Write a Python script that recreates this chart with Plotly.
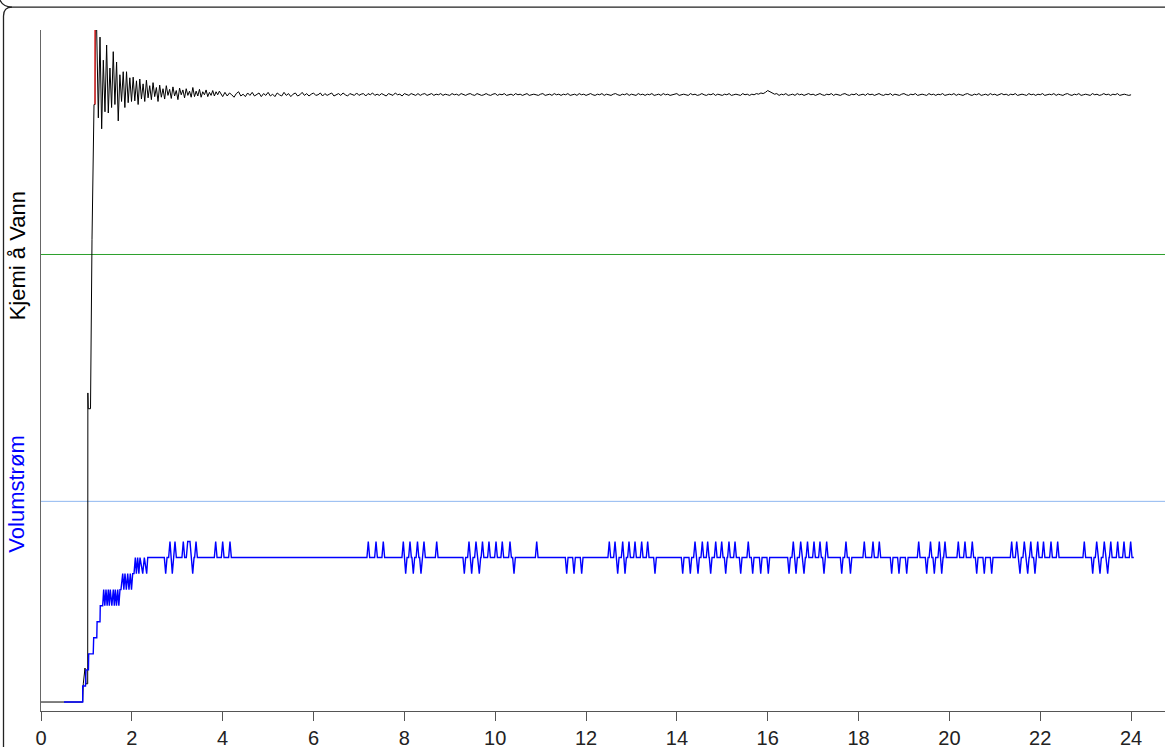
import plotly.graph_objects as go

# ---------------- data ----------------
x_tick_vals = list(range(0, 25, 2))

# "Kjemi å Vann" (black) – start-up part
kjemi_lead_t = [0.0, 0.918, 0.931, 0.969, 0.991, 1.028, 1.032, 1.040, 1.090, 1.094, 1.123, 1.167, 1.189, 1.196]
kjemi_lead_v = [0.0, 0.0, 3.0, 5.6, 3.0, 3.0, 50.9, 48.3, 48.3, 52.0, 76.2, 98.4, 98.4, 110.7]

# oscillation after start-up (regular sampling)
kjemi_osc_start = 1.226
kjemi_osc_dt = 0.0365
kjemi_osc_v = [
    110.7, 96.2, 109.5, 94.4, 105.7, 97.2, 108.2, 97.0, 104.4, 97.9,
    107.1, 98.4, 105.4, 95.7, 103.3, 98.9, 103.8, 97.9, 103.8, 98.7,
    102.8, 98.9, 102.9, 99.0, 102.3, 98.4, 102.6, 99.3, 101.8, 98.9,
    102.4, 99.5, 101.5, 99.2, 102.0, 99.7, 101.2, 98.9, 101.6, 99.6,
    101.0, 99.3, 101.5, 99.9, 100.9, 99.4, 101.3, 99.8, 100.7, 99.2,
    101.1, 100.0, 100.8, 99.5, 101.0, 99.9, 100.6, 99.6, 101.2, 99.7,
    100.6, 99.8, 100.9, 99.6, 100.5, 100.0, 100.8, 99.7, 100.4, 99.9,
    100.7, 99.8, 100.5, 100.0, 100.6,
]

# steady tail
kjemi_tail_start = 4.0
kjemi_tail_dt = 0.05
kjemi_tail_v = [
    99.7, 100.4, 99.8, 100.3, 100.0, 99.6, 100.2, 100.5, 99.8, 100.1, 99.7, 100.3, 99.9, 100.4, 99.8, 100.0, 100.3, 99.7, 100.2, 99.9,
    100.4, 99.8, 100.1, 99.7, 100.3, 100.0, 99.8, 100.4, 99.9, 100.2, 99.7, 100.1, 100.3, 99.8, 100.0, 100.4, 99.9, 100.2, 99.8, 100.1,
    100.3, 99.9, 100.0, 100.3, 99.8, 100.2, 99.9, 100.1, 100.3, 99.8, 100.0, 100.2, 99.9, 100.3, 100.0, 99.8, 100.2, 100.1, 99.9, 100.3,
    99.9, 100.1, 100.2, 99.8, 100.2, 100.0, 100.3, 99.9, 100.1, 99.9, 100.2, 100.0, 99.8, 100.2, 100.1, 99.9, 100.3, 100.0, 100.1, 99.8,
    100.2, 100.0, 99.9, 100.2, 100.1, 99.9, 100.2, 99.9, 100.1, 100.2, 99.9, 100.0, 100.2, 99.9, 100.1, 100.0, 100.2, 99.9, 100.1, 100.0,
    99.9, 100.2, 100.0, 100.1, 99.9, 100.2, 100.0, 99.9, 100.1, 100.2, 100.0, 99.9, 100.2, 100.1, 99.9, 100.0, 100.2, 100.0, 99.9, 100.1,
    100.2, 99.9, 100.1, 100.0, 100.2, 99.9, 100.0, 100.1, 99.9, 100.2, 100.0, 100.1, 99.9, 100.1, 100.2, 99.9, 100.0, 100.1, 100.0, 99.9,
    100.1, 100.2, 99.9, 100.0, 100.1, 99.9, 100.2, 100.0, 100.1, 99.9, 100.1, 100.0, 100.2, 99.9, 100.0, 100.1, 99.9, 100.2, 100.0, 100.1,
    99.9, 100.0, 100.2, 100.0, 99.9, 100.1, 100.0, 100.2, 99.9, 100.1, 100.0, 99.9, 100.1, 100.2, 100.0, 99.9, 100.1, 100.0, 100.2, 99.9,
    100.1, 100.0, 99.9, 100.2, 100.0, 100.1, 99.9, 100.1, 100.0, 100.2, 99.9, 100.0, 100.1, 99.9, 100.2, 100.0, 100.1, 99.9, 100.0, 100.1,
    100.2, 99.9, 100.0, 100.1, 100.0, 99.9, 100.2, 100.0, 100.1, 99.9, 100.0, 100.2, 100.0, 99.9, 100.1, 100.0, 100.2, 99.9, 100.1, 100.0,
    99.9, 100.1, 100.0, 100.2, 99.9, 100.0, 100.1, 100.0, 99.9, 100.2, 100.0, 100.1, 99.9, 100.1, 100.0, 100.2, 100.1, 100.3, 100.2, 100.4,
    100.7, 100.5, 100.3, 100.1, 100.2, 99.9, 100.1, 100.0, 100.2, 99.9, 100.0, 100.1, 99.9, 100.2, 100.0, 100.1, 99.9, 100.0, 100.2, 100.0,
    100.1, 99.9, 100.0, 100.2, 100.0, 99.9, 100.1, 100.0, 100.2, 99.9, 100.1, 100.0, 99.9, 100.1, 100.2, 100.0, 99.9, 100.1, 100.0, 100.2,
    99.9, 100.0, 100.1, 99.9, 100.2, 100.0, 100.1, 99.9, 100.0, 100.2, 100.0, 99.9, 100.1, 100.0, 100.2, 99.9, 100.1, 100.0, 99.9, 100.1,
    100.2, 100.0, 99.9, 100.1, 100.0, 100.2, 99.9, 100.0, 100.1, 100.0, 99.9, 100.2, 100.0, 100.1, 99.9, 100.1, 100.0, 100.2, 99.9, 100.0,
    100.1, 100.0, 100.2, 99.9, 100.1, 100.0, 99.9, 100.1, 100.2, 100.0, 99.9, 100.1, 100.0, 100.2, 99.9, 100.0, 100.1, 99.9, 100.2, 100.0,
    100.1, 99.9, 100.0, 100.2, 100.0, 100.1, 99.9, 100.1, 100.0, 100.2, 99.9, 100.0, 100.1, 100.0, 99.9, 100.2, 100.0, 100.1, 99.9, 100.1,
    100.0, 100.2, 99.9, 100.0, 100.1, 100.0, 100.2, 99.9, 100.1, 100.0, 99.9, 100.1, 100.2, 100.0, 99.9, 100.1, 100.0, 100.2, 99.9, 100.0,
    100.1, 100.0, 99.9, 100.2, 100.0, 100.1, 99.9, 100.0, 100.2, 100.0, 100.1, 99.9, 100.1, 100.0, 100.2, 99.9, 100.0, 100.1, 100.0, 99.9,
    100.0,
]

kjemi_red_t = [1.189, 1.189]
kjemi_red_v = [98.4, 110.7]
kjemi_limit = 73.7

# "Volumstrøm" (blue) – start-up staircase
volum_start_t = [0.506, 0.918, 0.918, 0.980, 0.991, 1.045, 1.050, 1.150, 1.160, 1.228,
                 1.235, 1.299, 1.305, 1.358, 1.380, 1.405, 1.431, 1.456, 1.482, 1.504,
                 1.526, 1.560, 1.592, 1.614, 1.636, 1.662, 1.689, 1.714, 1.739, 1.761,
                 1.799, 1.824, 1.849, 1.879, 1.909, 1.937, 1.966, 1.992, 2.019, 2.048,
                 2.077, 2.100, 2.128, 2.155, 2.180, 2.240, 2.275, 2.327, 2.350]
volum_start_v = [0, 0, 1, 1, 2, 2, 3, 3, 4, 4,
                 5, 5, 6, 6, 7, 6, 7, 6, 7, 6,
                 7, 6, 7, 6, 7, 6, 7, 6, 7, 7,
                 8, 7, 8, 7, 8, 7, 8, 7, 8, 8,
                 9, 8, 9, 8, 9, 8, 9, 8, 9]
volum_base = 9
volum_up_t = [
    2.840, 2.950, 3.133, 3.230, 3.280, 3.413, 3.846, 4.000, 4.161,
    7.206, 7.376, 7.536, 7.977, 8.124, 8.289, 8.432, 8.712,
    9.423, 9.577, 9.720, 9.863, 10.018, 10.156, 10.326, 10.914,
    12.512, 12.638, 12.807, 12.946, 13.078, 13.225, 13.357,
    14.399, 14.560, 14.678, 14.855, 14.987, 15.147, 15.280, 15.572,
    16.563, 16.726, 16.876, 17.019, 17.151, 17.298, 17.723,
    18.126, 18.318, 18.457, 19.324, 19.584, 19.778, 19.903,
    20.196, 20.343, 20.504, 21.371, 21.482, 21.649, 21.792, 21.944,
    22.072, 22.237, 22.384, 22.970, 23.243, 23.410, 23.553, 23.705,
    23.844, 23.991,
]
volum_down_t = [
    2.745, 2.891, 3.340, 8.029, 8.197, 8.366, 9.320, 9.482, 9.650,
    10.414, 11.574, 11.735, 11.904, 12.697, 12.858, 13.518,
    14.128, 14.296, 14.465, 14.744, 15.075, 15.405, 15.669, 15.846,
    16.013, 16.469, 16.623, 16.799, 17.239, 17.629, 17.822,
    18.729, 18.890, 19.060, 19.500, 19.668, 19.831, 20.601, 20.768,
    20.931, 21.554, 21.724, 21.884, 23.155, 23.316, 23.485,
]
volum_end_t = 24.06
volum_limit = 12.5

# ---------------- build series ----------------
k_t = list(kjemi_lead_t)
k_v = list(kjemi_lead_v)
k_t += [kjemi_osc_start + i * kjemi_osc_dt for i in range(len(kjemi_osc_v))]
k_v += kjemi_osc_v
k_t += [kjemi_tail_start + i * kjemi_tail_dt for i in range(len(kjemi_tail_v))]
k_v += kjemi_tail_v

events = sorted([(t, 1) for t in volum_up_t] + [(t, -1) for t in volum_down_t])
v_t = list(volum_start_t)
v_v = list(volum_start_v)
w = 0.03
last = None
for t, d in events:
    if last is not None and t - w < last + w:
        v_t.pop(); v_v.pop()
    else:
        v_t.append(t - w); v_v.append(volum_base)
    v_t.append(t); v_v.append(volum_base + d)
    v_t.append(t + w); v_v.append(volum_base)
    last = t
v_t.append(volum_end_t); v_v.append(volum_base)

# ---------------- figure ----------------
FONT = "Liberation Sans, Arial, sans-serif"
fig = go.Figure()
fig.add_trace(go.Scatter(x=k_t, y=k_v, mode="lines", line=dict(color="black", width=1),
                         yaxis="y", showlegend=False, hoverinfo="skip"))
fig.add_trace(go.Scatter(x=kjemi_red_t, y=kjemi_red_v, mode="lines",
                         line=dict(color="#ff2020", width=1.2), yaxis="y",
                         showlegend=False, hoverinfo="skip"))
fig.add_trace(go.Scatter(x=v_t, y=v_v, mode="lines", line=dict(color="#0000ff", width=1.4),
                         yaxis="y2", showlegend=False, hoverinfo="skip"))

fig.add_shape(type="line", xref="paper", x0=0, x1=1, yref="y", y0=kjemi_limit, y1=kjemi_limit,
              line=dict(color="#2ca02c", width=1), layer="below")
fig.add_shape(type="line", xref="paper", x0=0, x1=1, yref="y2", y0=volum_limit, y1=volum_limit,
              line=dict(color="#8fb8f0", width=1), layer="below")

# frame (rounded box edge) in paper coordinates
def px(xp, yp):
    return (xp - 41) / 1124.0, (713 - yp) / 683.0

a = [px(0, 0), px(3, 7), px(12, 7)]
b = [px(3.5, 749), px(3.5, 16), px(3.5, 7), px(12, 7), px(1166, 7)]
pathA = "M %f,%f Q %f,%f %f,%f" % (a[0] + a[1] + a[2])
pathB = "M %f,%f L %f,%f Q %f,%f %f,%f L %f,%f" % (b[0] + b[1] + b[2] + b[3] + b[4])
for p in (pathA, pathB):
    fig.add_shape(type="path", xref="paper", yref="paper", path=p,
                  line=dict(color="#222222", width=1.3))

fig.add_annotation(text="Kjemi å Vann", xref="paper", yref="paper",
                   x=(17 - 41) / 1124.0, y=(713 - 257) / 683.0, textangle=-90,
                   showarrow=False, xanchor="center", yanchor="middle",
                   font=dict(family=FONT, size=22, color="black"))
fig.add_annotation(text="Volumstrøm", xref="paper", yref="paper",
                   x=(17 - 41) / 1124.0, y=(713 - 496) / 683.0, textangle=-90,
                   showarrow=False, xanchor="center", yanchor="middle",
                   font=dict(family=FONT, size=22, color="#0000ff"))

fig.update_layout(
    width=1165, height=749,
    margin=dict(l=41, r=0, t=30, b=36),
    paper_bgcolor="white", plot_bgcolor="white",
    font=dict(family=FONT, color="#222222"),
    xaxis=dict(range=[0, 24.747], tickvals=x_tick_vals, ticks="outside", ticklen=9,
               tickcolor="#555555", showline=True, linecolor="#555555", linewidth=1,
               showgrid=False, zeroline=False, tickfont=dict(size=20, color="#222222")),
    yaxis=dict(range=[-1.478, 110.67], showline=True, linecolor="#666666", linewidth=1,
               showticklabels=False, ticks="", showgrid=False, zeroline=False),
    yaxis2=dict(range=[-0.559, 41.86], overlaying="y", visible=False),
)

fig.write_html("out.html", config={"displayModeBar": False},
               post_script="document.body.style.margin='0';document.body.style.overflow='hidden';")
